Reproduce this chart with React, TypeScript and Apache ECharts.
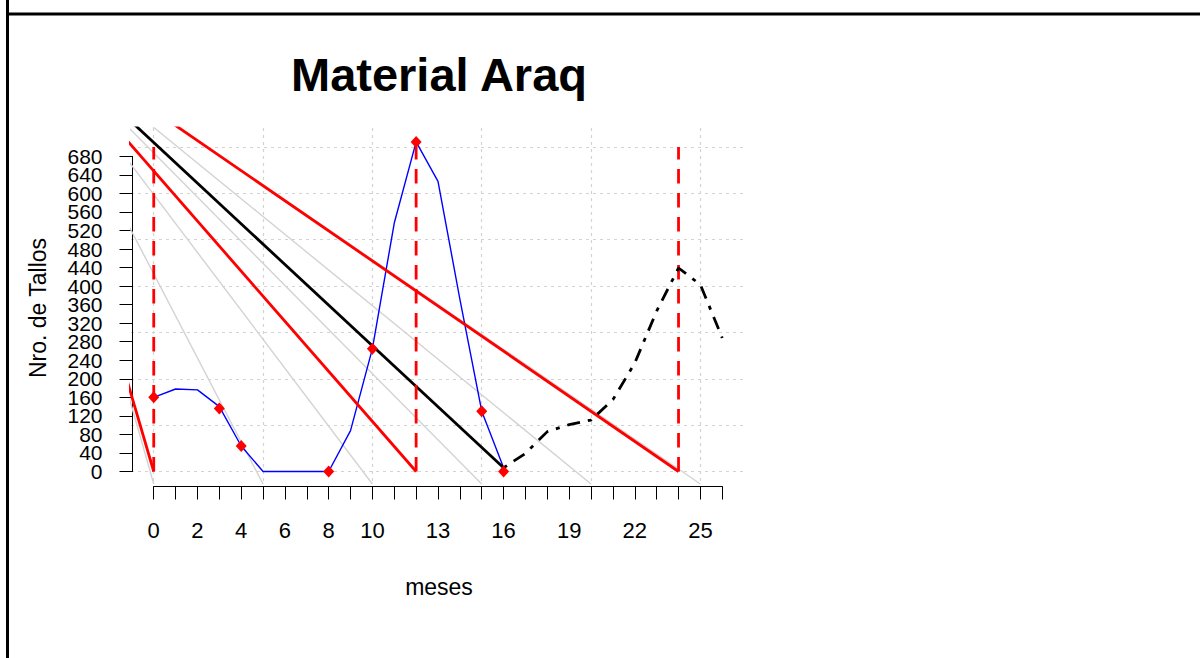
import React, { useEffect, useRef } from "react";
import * as echarts from "echarts";

// ---- data ----
const months = [0, 1, 2, 3, 4, 5, 6, 7, 8, 9, 10, 11, 12, 13, 14, 15, 16];
const stemCounts = [160, 178, 176, 140, 55, 0, 0, 0, 0, 88, 265, 536, 711, 626, 372, 130, 8];

const sampleMonths = [0, 3, 4, 8, 10, 12, 15, 16];
const sampleCounts = [160, 136, 55, 0, 265, 711, 130, 0];

const projMonths = [16, 17, 18, 19, 20, 21, 22, 23, 24, 25, 26];
const projCounts = [8, 39, 86, 101, 111, 155, 234, 346, 439, 403, 288];

const fanOrigin = [-6.05, 975];
const redLineEnds = [0, 12, 24];
const blackLineEnd = [16, 8];
const grayLineEnds = [0, 5, 10, 15, 20, 25];
const grayLineBottom = -27;

const cutMonths = [0, 12, 24];
const cutTop = 700;

const xTickLabels = [0, 2, 4, 6, 8, 10, 13, 16, 19, 22, 25];
const xAxisMax = 26;
const yAxisMax = 680;
const yTickStep = 40;

const xRange = [-1.04, 27.04];
const yRange = [-27, 741];

const FONT = '"Liberation Sans", Arial, Helvetica, sans-serif';

export default function App() {
  const ref = useRef<HTMLDivElement>(null);

  useEffect(() => {
    if (!ref.current) return;
    const chart = echarts.init(ref.current, null, { renderer: "svg" });

    const series: any[] = [];

    grayLineEnds.forEach((k) => {
      series.push({
        type: "line",
        xAxisIndex: 0,
        yAxisIndex: 0,
        data: [
          [fanOrigin[0], fanOrigin[1]],
          [k, grayLineBottom],
        ],
        symbol: "none",
        silent: true,
        lineStyle: { color: "#d3d3d3", width: 1.4 },
      });
    });

    series.push({
      type: "line",
      xAxisIndex: 0,
      yAxisIndex: 0,
      data: months.map((m, i) => [m, stemCounts[i]]),
      symbol: "none",
      lineStyle: { color: "#0000ff", width: 1.4 },
    });

    redLineEnds.forEach((t) => {
      series.push({
        type: "line",
        xAxisIndex: 0,
        yAxisIndex: 0,
        data: [
          [fanOrigin[0], fanOrigin[1]],
          [t, 0],
        ],
        symbol: "none",
        lineStyle: { color: "#ff0000", width: 2.8 },
      });
    });

    series.push({
      type: "line",
      xAxisIndex: 0,
      yAxisIndex: 0,
      data: [
        [fanOrigin[0], fanOrigin[1]],
        [blackLineEnd[0], blackLineEnd[1]],
      ],
      symbol: "none",
      lineStyle: { color: "#000000", width: 2.8 },
    });

    cutMonths.forEach((t) => {
      series.push({
        type: "line",
        xAxisIndex: 0,
        yAxisIndex: 0,
        data: [
          [t, 0],
          [t, cutTop],
        ],
        symbol: "none",
        lineStyle: { color: "#ff0000", width: 2.8, type: [14.5, 9.5] },
      });
    });

    series.push({
      type: "line",
      xAxisIndex: 0,
      yAxisIndex: 0,
      data: projMonths.map((m, i) => [m, projCounts[i]]),
      symbol: "none",
      lineStyle: { color: "#000000", width: 2.8, type: [4, 8, 13, 8] },
    });

    series.push({
      type: "scatter",
      xAxisIndex: 0,
      yAxisIndex: 0,
      data: sampleMonths.map((m, i) => [m, sampleCounts[i]]),
      symbol: "diamond",
      symbolSize: [11, 12],
      itemStyle: { color: "#ff0000", opacity: 1 },
      z: 5,
    });

    const yLabelStyle = {
      show: true,
      margin: 30,
      fontSize: 21,
      fontFamily: FONT,
      color: "#000",
      padding: [7, 0, 0, 0],
      hideOverlap: false,
    };

    const hiddenParts = {
      axisLine: { show: false },
      axisTick: { show: false },
      splitLine: { show: false },
    };

    const option: any = {
      animation: false,
      grid: [
        { left: 131, top: 128, width: 614, height: 356, outerBoundsMode: "none" },
        { left: 153.7, top: 485.5, width: 568.6, height: 1, outerBoundsMode: "none" },
        { left: 132.5, top: 156.3, width: 1, height: 315.2, outerBoundsMode: "none" },
      ],
      xAxis: [
        {
          gridIndex: 0,
          type: "value",
          min: xRange[0],
          max: xRange[1],
          minInterval: 5,
          maxInterval: 5,
          axisLine: { show: false },
          axisTick: { show: false },
          axisLabel: { show: false },
          splitLine: {
            show: true,
            showMinLine: false,
            showMaxLine: false,
            lineStyle: { color: "#d3d3d3", width: 1.2, type: [3, 4] },
          },
        },
        {
          gridIndex: 1,
          type: "value",
          min: 0,
          max: xAxisMax,
          interval: 1,
          position: "bottom",
          axisLine: { show: true, onZero: false, lineStyle: { color: "#000", width: 1 } },
          axisTick: { show: true, length: 13, lineStyle: { color: "#000", width: 1 } },
          axisLabel: { show: false },
          splitLine: { show: false },
        },
        { gridIndex: 2, type: "value", show: false, min: 0, max: 1 },
        {
          gridIndex: 1,
          type: "value",
          min: 0,
          max: xAxisMax,
          interval: 1,
          position: "bottom",
          ...hiddenParts,
          axisLabel: {
            show: true,
            margin: 33,
            fontSize: 22,
            fontFamily: FONT,
            color: "#000",
            hideOverlap: false,
            formatter: (v: number) => (xTickLabels.includes(v) ? String(v) : ""),
          },
        },
      ],
      yAxis: [
        {
          gridIndex: 0,
          type: "value",
          min: yRange[0],
          max: yRange[1],
          minInterval: 100,
          maxInterval: 100,
          axisLine: { show: false },
          axisTick: { show: false },
          axisLabel: { show: false },
          splitLine: {
            show: true,
            showMinLine: false,
            showMaxLine: false,
            lineStyle: { color: "#d3d3d3", width: 1.2, type: [3, 4] },
          },
        },
        { gridIndex: 1, type: "value", show: false, min: 0, max: 1 },
        {
          gridIndex: 2,
          type: "value",
          min: 0,
          max: yAxisMax,
          interval: yTickStep,
          position: "left",
          axisLine: { show: true, onZero: false, lineStyle: { color: "#000", width: 1 } },
          axisTick: { show: true, length: 13, lineStyle: { color: "#000", width: 1 } },
          axisLabel: { show: false },
          splitLine: { show: false },
        },
        {
          gridIndex: 2,
          type: "value",
          min: 0,
          max: yAxisMax,
          interval: yTickStep,
          position: "left",
          ...hiddenParts,
          axisLabel: {
            ...yLabelStyle,
            showMinLabel: true,
            showMaxLabel: false,
            formatter: (v: number) => (v % (2 * yTickStep) === 0 ? String(v) : ""),
          },
        },
        {
          gridIndex: 2,
          type: "value",
          min: 0,
          max: yAxisMax,
          interval: yTickStep,
          position: "left",
          ...hiddenParts,
          axisLabel: {
            ...yLabelStyle,
            showMinLabel: false,
            showMaxLabel: true,
            formatter: (v: number) => (v % (2 * yTickStep) !== 0 ? String(v) : ""),
          },
        },
      ],
      graphic: [
        {
          type: "line",
          shape: { x1: 7.5, y1: 0, x2: 7.5, y2: 658 },
          style: { stroke: "#000", lineWidth: 3 },
        },
        {
          type: "line",
          shape: { x1: 6, y1: 14, x2: 1200, y2: 14 },
          style: { stroke: "#000", lineWidth: 3 },
        },
        {
          type: "text",
          x: 439,
          y: 74,
          style: {
            text: "Material Araq",
            fontSize: 47,
            fontWeight: "bold",
            fontFamily: FONT,
            fill: "#000",
            align: "center",
            verticalAlign: "middle",
          },
        },
        {
          type: "text",
          x: 439,
          y: 587,
          style: {
            text: "meses",
            fontSize: 23,
            fontFamily: FONT,
            fill: "#000",
            align: "center",
            verticalAlign: "middle",
          },
        },
        {
          type: "text",
          x: 38,
          y: 308,
          rotation: Math.PI / 2,
          style: {
            text: "Nro. de Tallos",
            fontSize: 23,
            fontFamily: FONT,
            fill: "#000",
            align: "center",
            verticalAlign: "middle",
          },
        },
      ],
      series,
    };

    chart.setOption(option);
    return () => chart.dispose();
  }, []);

  return (
    <div
      ref={ref}
      style={{ position: "absolute", left: 0, top: 0, width: 1200, height: 658, background: "#fff" }}
    />
  );
}
